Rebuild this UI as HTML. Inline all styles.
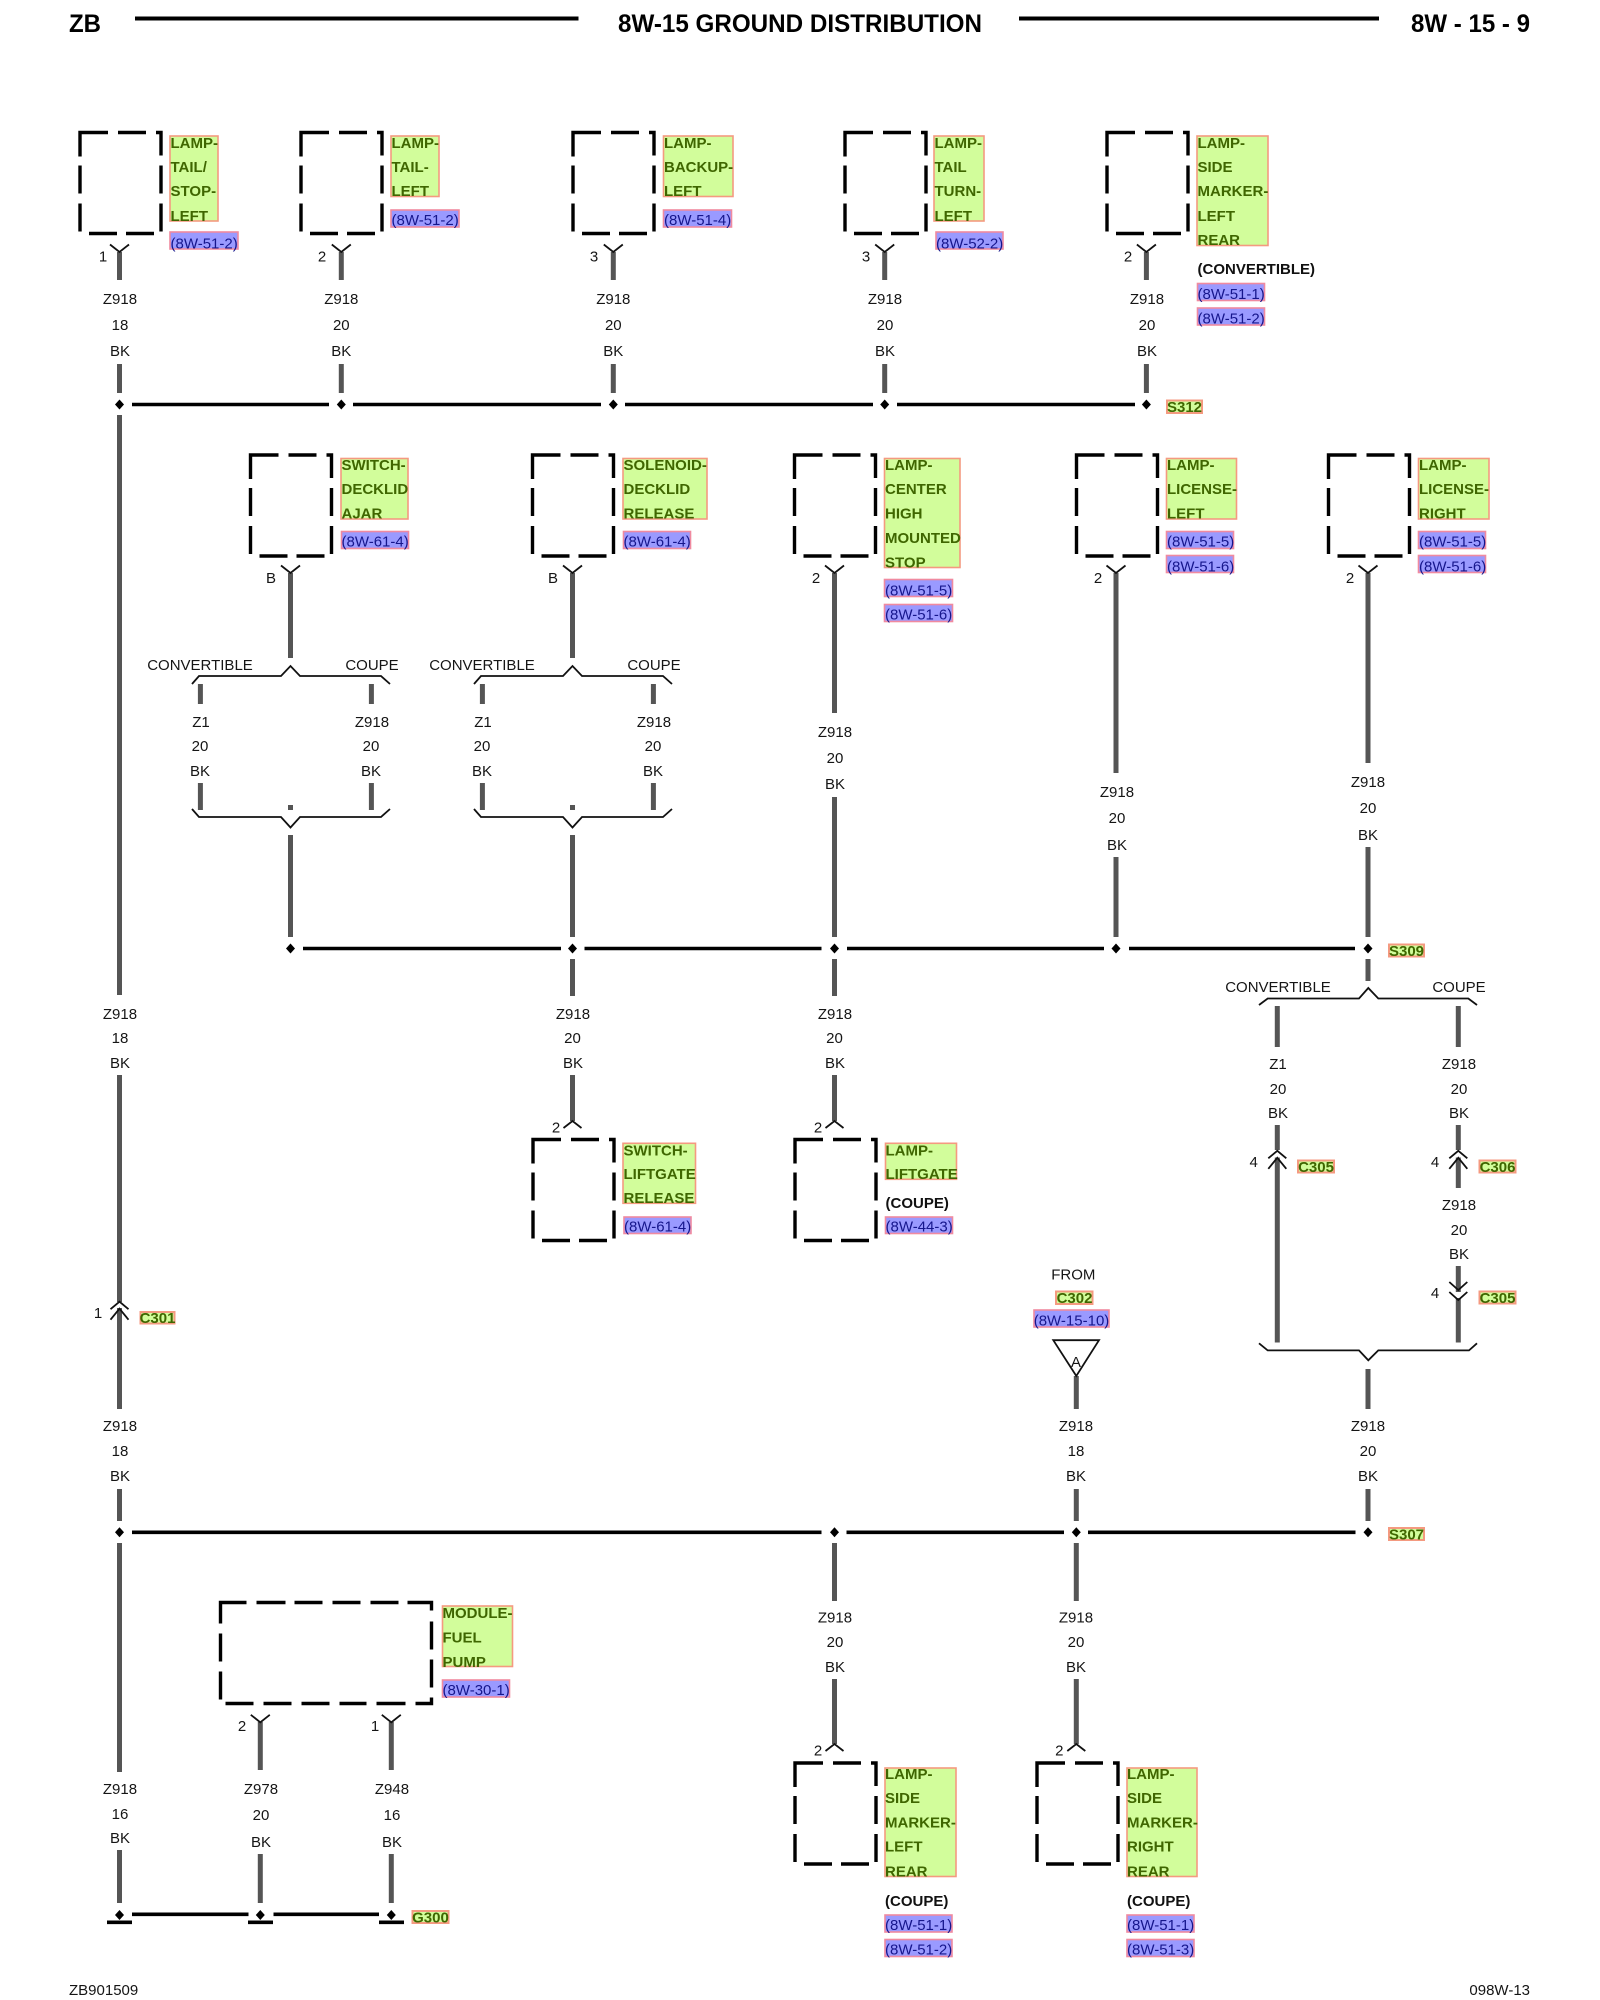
<!DOCTYPE html>
<html lang="en">
<head>
<meta charset="utf-8">
<title>8W-15 Ground Distribution</title>
<style>
html,body{margin:0;padding:0;background:#fff}
svg{display:block}
text{font-family:"Liberation Sans",sans-serif;font-size:15px;fill:#151515}
.m{text-anchor:middle}
.e{text-anchor:end}
.w{stroke:#555;stroke-width:5;fill:none}
.b{stroke:#000;stroke-width:3.6;fill:none}
.t{stroke:#111;stroke-width:1.8;fill:none}
.gr{fill:#d2fd9b;stroke:#f49a80;stroke-width:1.6}
.br{fill:#9a9aff;stroke:#f08aa0;stroke-width:1.6}
text.g{font-weight:bold;fill:#3f6600}
text.l{fill:#16168c}
text.k{font-weight:bold;fill:#111}
.sr{fill:#d2fd9b;stroke:#f49a80;stroke-width:2}
text.h{font-weight:bold;font-size:25px;fill:#000}
</style>
</head>
<body>
<svg width="1600" height="2000" viewBox="0 0 1600 2000" xmlns="http://www.w3.org/2000/svg">
<defs>
<path id="bx" fill="none" stroke="#000" stroke-width="3.4" d="M0 24V0H28M38 0H66M76 0H81V23M81 33V61M81 71V99M9 101H37M46 101H74M0 33V61M0 71V99"/>
<polygon id="d" points="0,-5 4.5,0 0,5 -4.5,0" fill="#000"/>
<path id="y" class="t" d="M-9.5 -7.500L0 0L9.5 -7.500"/>
<path id="a" class="t" d="M-9 7L0 0L9 7"/>
<path id="cu" class="t" d="M-9 7.500L0 0L9 7.500M-9 18L0 7L9 18"/>
<path id="cd" class="t" d="M-9 -8L0 0L9 -8M-9 2L0 10L9 2"/>
<path id="bt" class="t" d="M-98.500 18L-91.500 10H-9.500L0 0L9.500 10H90.500L99.500 18"/>
<path id="bb" class="t" d="M-98.500 0L-91.500 8H-9.500L0 18.500L9.500 8H90.500L99.500 0"/>
</defs>

<!-- header -->
<text class="h" x="69" y="32" textLength="32" lengthAdjust="spacingAndGlyphs">ZB</text>
<text class="h" x="618" y="32" textLength="364" lengthAdjust="spacingAndGlyphs">8W-15 GROUND DISTRIBUTION</text>
<text class="h" x="1411" y="32" textLength="119" lengthAdjust="spacingAndGlyphs">8W - 15 - 9</text>
<path stroke="#000" stroke-width="4" d="M135 18.500H578.500M1019 18.500H1379"/>

<!-- row 1 nodes -->
<g transform="translate(80,132.500)"><use href="#bx"/><rect class="gr" x="90" y="3.500" width="48" height="85"/><text class="g" x="90.500" y="15.500">LAMP-</text><text class="g" x="90.500" y="39.500">TAIL/</text><text class="g" x="90.500" y="63.500">STOP-</text><text class="g" x="90.500" y="88.500">LEFT</text><rect class="br" x="90" y="99.500" width="68" height="17"/><text class="l" x="90.500" y="116">(8W-51-2)</text></g>
<g transform="translate(301,132.500)"><use href="#bx"/><rect class="gr" x="90" y="3.500" width="48" height="60.500"/><text class="g" x="90.500" y="15.500">LAMP-</text><text class="g" x="90.500" y="39.500">TAIL-</text><text class="g" x="90.500" y="63.500">LEFT</text><rect class="br" x="90" y="77.500" width="68" height="17"/><text class="l" x="90.500" y="92.500">(8W-51-2)</text></g>
<g transform="translate(573,132.500)"><use href="#bx"/><rect class="gr" x="90.500" y="3.500" width="69.500" height="60.500"/><text class="g" x="91" y="15.500">LAMP-</text><text class="g" x="91" y="39.500">BACKUP-</text><text class="g" x="91" y="63.500">LEFT</text><rect class="br" x="90.500" y="77.500" width="68" height="17"/><text class="l" x="91" y="92.500">(8W-51-4)</text></g>
<g transform="translate(845,132.500)"><use href="#bx"/><rect class="gr" x="89" y="3.500" width="50" height="85"/><text class="g" x="89.500" y="15.500">LAMP-</text><text class="g" x="89.500" y="39.500">TAIL</text><text class="g" x="89.500" y="63.500">TURN-</text><text class="g" x="89.500" y="88.500">LEFT</text><rect class="br" x="91" y="99.500" width="67" height="17"/><text class="l" x="91" y="116">(8W-52-2)</text></g>
<g transform="translate(1107,132.500)"><use href="#bx"/><rect class="gr" x="90" y="3.500" width="71" height="109.500"/><text class="g" x="90.500" y="15.500">LAMP-</text><text class="g" x="90.500" y="39.500">SIDE</text><text class="g" x="90.500" y="63.500">MARKER-</text><text class="g" x="90.500" y="88.500">LEFT</text><text class="g" x="90.500" y="112.500">REAR</text><text class="k" x="90.500" y="141.500">(CONVERTIBLE)</text><rect class="br" x="90.500" y="151" width="67" height="17"/><text class="l" x="90.500" y="166.500">(8W-51-1)</text><rect class="br" x="90.500" y="175.500" width="67" height="17"/><text class="l" x="90.500" y="191">(8W-51-2)</text></g>

<!-- row 2 nodes -->
<g transform="translate(250.500,455)"><use href="#bx"/><rect class="gr" x="90.500" y="3.500" width="67" height="60.500"/><text class="g" x="91" y="15">SWITCH-</text><text class="g" x="91" y="39">DECKLID</text><text class="g" x="91" y="63.500">AJAR</text><rect class="br" x="91" y="76.500" width="67" height="17"/><text class="l" x="91" y="91.500">(8W-61-4)</text></g>
<g transform="translate(532.500,455)"><use href="#bx"/><rect class="gr" x="90.500" y="3.500" width="84" height="60.500"/><text class="g" x="91" y="15">SOLENOID-</text><text class="g" x="91" y="39">DECKLID</text><text class="g" x="91" y="63.500">RELEASE</text><rect class="br" x="91" y="76.500" width="67" height="17"/><text class="l" x="91" y="91.500">(8W-61-4)</text></g>
<g transform="translate(794.500,455)"><use href="#bx"/><rect class="gr" x="90" y="3.500" width="75.500" height="109"/><text class="g" x="90.500" y="15">LAMP-</text><text class="g" x="90.500" y="39">CENTER</text><text class="g" x="90.500" y="63.500">HIGH</text><text class="g" x="90.500" y="88">MOUNTED</text><text class="g" x="90.500" y="112.500">STOP</text><rect class="br" x="90" y="124.500" width="68" height="17"/><text class="l" x="90.500" y="140.500">(8W-51-5)</text><rect class="br" x="90" y="149.500" width="68" height="17"/><text class="l" x="90.500" y="164.500">(8W-51-6)</text></g>
<g transform="translate(1076.500,455)"><use href="#bx"/><rect class="gr" x="90" y="3.500" width="70" height="60.500"/><text class="g" x="90.500" y="15">LAMP-</text><text class="g" x="90.500" y="39">LICENSE-</text><text class="g" x="90.500" y="63.500">LEFT</text><rect class="br" x="90" y="76.500" width="67" height="17"/><text class="l" x="90.500" y="91.500">(8W-51-5)</text><rect class="br" x="90" y="100.500" width="67" height="17"/><text class="l" x="90.500" y="116.500">(8W-51-6)</text></g>
<g transform="translate(1328.500,455)"><use href="#bx"/><rect class="gr" x="90" y="3.500" width="70.500" height="60.500"/><text class="g" x="90.500" y="15">LAMP-</text><text class="g" x="90.500" y="39">LICENSE-</text><text class="g" x="90.500" y="63.500">RIGHT</text><rect class="br" x="90" y="76.500" width="67" height="17"/><text class="l" x="90.500" y="91.500">(8W-51-5)</text><rect class="br" x="90" y="100.500" width="67" height="17"/><text class="l" x="90.500" y="116.500">(8W-51-6)</text></g>

<!-- row 3 nodes -->
<g transform="translate(533,1139.500)"><use href="#bx"/><rect class="gr" x="90" y="3.800" width="72.500" height="60"/><text class="g" x="90.500" y="16">SWITCH-</text><text class="g" x="90.500" y="39.500">LIFTGATE</text><text class="g" x="90.500" y="63.500">RELEASE</text><rect class="br" x="91" y="77.500" width="67" height="16.500"/><text class="l" x="91" y="92">(8W-61-4)</text></g>
<g transform="translate(795,1139.500)"><use href="#bx"/><rect class="gr" x="90.500" y="3.800" width="71" height="36"/><text class="g" x="90.500" y="16">LAMP-</text><text class="g" x="90.500" y="39.500">LIFTGATE</text><text class="k" x="90.500" y="68.500">(COUPE)</text><rect class="br" x="90.500" y="77.500" width="67" height="16.500"/><text class="l" x="90.500" y="92">(8W-44-3)</text></g>

<!-- row 4 nodes -->
<g transform="translate(795,1763)"><use href="#bx"/><rect class="gr" x="90" y="5" width="71" height="108.500"/><text class="g" x="90" y="16">LAMP-</text><text class="g" x="90" y="40">SIDE</text><text class="g" x="90" y="64.500">MARKER-</text><text class="g" x="90" y="88.500">LEFT</text><text class="g" x="90" y="113.500">REAR</text><text class="k" x="90" y="143">(COUPE)</text><rect class="br" x="90" y="152" width="67" height="17"/><text class="l" x="90" y="167">(8W-51-1)</text><rect class="br" x="90" y="176.500" width="67" height="17"/><text class="l" x="90" y="191.500">(8W-51-2)</text></g>
<g transform="translate(1037,1763)"><use href="#bx"/><rect class="gr" x="90" y="5" width="70" height="108.500"/><text class="g" x="90" y="16">LAMP-</text><text class="g" x="90" y="40">SIDE</text><text class="g" x="90" y="64.500">MARKER-</text><text class="g" x="90" y="88.500">RIGHT</text><text class="g" x="90" y="113.500">REAR</text><text class="k" x="90" y="143">(COUPE)</text><rect class="br" x="90" y="152" width="67" height="17"/><text class="l" x="90" y="167">(8W-51-1)</text><rect class="br" x="90" y="176.500" width="67" height="17"/><text class="l" x="90" y="191.500">(8W-51-3)</text></g>

<!-- fuel pump module -->
<path fill="none" stroke="#000" stroke-width="3.400" transform="translate(220.500,1602.500)" d="M0 21V0H26M36 0H65M74 0H102M112 0H140M150 0H178M187 0H211V8M211 19V47M211 57V85M211 95V101H195M185 101H156M146 101H119M109 101H81M71 101H43M33 101H5M0 31V59M0 69V97"/>
<rect class="gr" x="442.500" y="1606" width="70" height="60.500"/>
<text class="g" x="442.500" y="1618">MODULE-</text><text class="g" x="442.500" y="1642.500">FUEL</text><text class="g" x="442.500" y="1667">PUMP</text>
<rect class="br" x="442.500" y="1680" width="67" height="17"/><text class="l" x="442.500" y="1695">(8W-30-1)</text>

<!-- wires -->
<path class="w" d="M119.500 252V280M119.500 364V393M119.500 415V995M119.500 1075V1302M119.500 1308V1409M119.500 1489V1521M119.500 1543V1772M119.500 1850V1903
M341.300 252V280M341.300 364V393
M613.300 252V280M613.300 364V393
M884.700 252V280M884.700 364V393
M1146.400 252V280M1146.400 364V393
M290.500 573V658M200.400 684V704M371.400 684V704M200.400 783V810M371.400 783V810M290.500 805V810M290.500 835V937
M572.500 573V658M482.400 684V704M653.400 684V704M482.400 783V810M653.400 783V810M572.500 805V810M572.500 835V937
M834.500 573V713M834.500 797V937
M1116 573V773M1116 857V937
M1368 573V763M1368 847V937
M572.500 959V996M572.500 1075V1121
M834.500 959V996M834.500 1075V1121
M1368 959V981
M1277.300 1006V1047M1277.300 1125V1150M1277.300 1157.500V1342.500
M1458.300 1006V1047M1458.300 1125V1150M1458.300 1157.500V1188M1458.300 1266V1292M1458.300 1298V1342.500
M1368 1369V1409M1368 1489V1521
M1076.300 1376V1409M1076.300 1489V1521
M1076.300 1543V1601M1076.300 1679V1744
M834.500 1543V1601M834.500 1679V1744
M260.300 1722V1770M260.300 1854V1903
M391.300 1722V1770M391.300 1854V1903"/>

<!-- buses -->
<path class="b" d="M132 404.500H329M353 404.500H601M625 404.500H873M897 404.500H1135
M303 948.500H561M584.500 948.500H821.500M847 948.500H1104M1129 948.500H1355
M132 1532.300H821.500M846.500 1532.300H1064M1088 1532.300H1355.500
M132 1914.300H248.500M273.500 1914.300H379"/>
<path stroke="#000" stroke-width="3.600" d="M107 1922.300H132M248 1922.300H273M379 1922.300H404"/>

<!-- splice diamonds -->
<use href="#d" x="119.500" y="404.500"/><use href="#d" x="341.300" y="404.500"/><use href="#d" x="613.300" y="404.500"/><use href="#d" x="884.700" y="404.500"/><use href="#d" x="1146.400" y="404.500"/>
<use href="#d" x="290.500" y="948.500"/><use href="#d" x="572.500" y="948.500"/><use href="#d" x="834.500" y="948.500"/><use href="#d" x="1116" y="948.500"/><use href="#d" x="1368" y="948.500"/>
<use href="#d" x="119.500" y="1532.300"/><use href="#d" x="834.500" y="1532.300"/><use href="#d" x="1076.300" y="1532.300"/><use href="#d" x="1368" y="1532.300"/>
<use href="#d" x="119.500" y="1915"/><use href="#d" x="260.300" y="1915"/><use href="#d" x="391.300" y="1915"/>

<!-- connector forks -->
<use href="#y" x="119.500" y="252"/><use href="#y" x="341.300" y="252"/><use href="#y" x="613.300" y="252"/><use href="#y" x="884.700" y="252"/><use href="#y" x="1146.400" y="252"/>
<use href="#y" x="290.500" y="573"/><use href="#y" x="572.500" y="573"/><use href="#y" x="834.500" y="573"/><use href="#y" x="1116" y="573"/><use href="#y" x="1368" y="573"/>
<use href="#y" x="260.300" y="1722.300"/><use href="#y" x="391.300" y="1722.300"/>
<use href="#a" x="572.500" y="1121"/><use href="#a" x="834.500" y="1121"/>
<use href="#a" x="834.500" y="1744"/><use href="#a" x="1076.300" y="1744"/>

<!-- brackets -->
<use href="#bt" x="290.500" y="666"/><use href="#bb" x="290.500" y="809"/>
<use href="#bt" x="572.500" y="666"/><use href="#bb" x="572.500" y="809"/>
<path class="t" d="M1259 1005L1267.700 998.500H1359L1368.300 988L1378.300 998.500H1468.300L1477 1005"/>
<path class="t" d="M1259 1343.300L1267.700 1350.400H1359L1368.300 1360.300L1378.300 1350.400H1469L1477 1343.300"/>

<!-- inline connectors -->
<use href="#cu" x="119.500" y="1301.700"/>
<use href="#cu" x="1277.300" y="1150.800"/>
<use href="#cu" x="1458.300" y="1150.800"/>
<use href="#cd" x="1458.300" y="1290"/>

<!-- triangle -->
<polygon class="t" points="1053.300,1340.200 1099,1340.200 1076.300,1376"/>
<text class="m" x="1076" y="1367">A</text>

<!-- pin labels -->
<text class="m" x="103" y="261.500">1</text><text class="m" x="322" y="261.500">2</text><text class="m" x="594" y="261.500">3</text><text class="m" x="866" y="261.500">3</text><text class="m" x="1128" y="261.500">2</text>
<text class="m" x="271" y="583">B</text><text class="m" x="553" y="583">B</text><text class="m" x="816" y="583">2</text><text class="m" x="1098" y="583">2</text><text class="m" x="1350" y="583">2</text>
<text class="m" x="556" y="1132.500">2</text><text class="m" x="818" y="1132.500">2</text>
<text class="m" x="98" y="1318">1</text>
<text class="m" x="1253.700" y="1167">4</text><text class="m" x="1435" y="1167">4</text><text class="m" x="1435" y="1298">4</text>
<text class="m" x="818" y="1755.500">2</text><text class="m" x="1059.300" y="1755.500">2</text>
<text class="m" x="242" y="1731">2</text><text class="m" x="375" y="1731">1</text>

<!-- wire labels row 1 -->
<text class="m" x="120" y="304">Z918</text><text class="m" x="120" y="330">18</text><text class="m" x="120" y="356">BK</text>
<text class="m" x="341.300" y="304">Z918</text><text class="m" x="341.300" y="330">20</text><text class="m" x="341.300" y="356">BK</text>
<text class="m" x="613.300" y="304">Z918</text><text class="m" x="613.300" y="330">20</text><text class="m" x="613.300" y="356">BK</text>
<text class="m" x="885" y="304">Z918</text><text class="m" x="885" y="330">20</text><text class="m" x="885" y="356">BK</text>
<text class="m" x="1147" y="304">Z918</text><text class="m" x="1147" y="330">20</text><text class="m" x="1147" y="356">BK</text>

<!-- convertible / coupe row 2 -->
<text class="m" x="200" y="670">CONVERTIBLE</text><text class="m" x="372" y="670">COUPE</text>
<text class="m" x="201" y="727">Z1</text><text class="m" x="200" y="751">20</text><text class="m" x="200" y="776">BK</text>
<text class="m" x="372" y="727">Z918</text><text class="m" x="371" y="751">20</text><text class="m" x="371" y="776">BK</text>
<text class="m" x="482" y="670">CONVERTIBLE</text><text class="m" x="654" y="670">COUPE</text>
<text class="m" x="483" y="727">Z1</text><text class="m" x="482" y="751">20</text><text class="m" x="482" y="776">BK</text>
<text class="m" x="654" y="727">Z918</text><text class="m" x="653" y="751">20</text><text class="m" x="653" y="776">BK</text>

<text class="m" x="835" y="737">Z918</text><text class="m" x="835" y="763">20</text><text class="m" x="835" y="789">BK</text>
<text class="m" x="1117" y="797">Z918</text><text class="m" x="1117" y="823">20</text><text class="m" x="1117" y="850">BK</text>
<text class="m" x="1368" y="787">Z918</text><text class="m" x="1368" y="813">20</text><text class="m" x="1368" y="840">BK</text>

<!-- wire labels row 3 -->
<text class="m" x="120" y="1019">Z918</text><text class="m" x="120" y="1043">18</text><text class="m" x="120" y="1068">BK</text>
<text class="m" x="573" y="1019">Z918</text><text class="m" x="572.500" y="1043">20</text><text class="m" x="573" y="1068">BK</text>
<text class="m" x="835" y="1019">Z918</text><text class="m" x="834.500" y="1043">20</text><text class="m" x="835" y="1068">BK</text>

<text class="m" x="1278" y="992">CONVERTIBLE</text><text class="m" x="1459" y="992">COUPE</text>
<text class="m" x="1278" y="1069">Z1</text><text class="m" x="1278" y="1094">20</text><text class="m" x="1278" y="1118">BK</text>
<text class="m" x="1459" y="1069">Z918</text><text class="m" x="1459" y="1094">20</text><text class="m" x="1459" y="1118">BK</text>
<text class="m" x="1459" y="1210">Z918</text><text class="m" x="1459" y="1235">20</text><text class="m" x="1459" y="1259">BK</text>

<!-- from C302 -->
<text class="m" x="1073.300" y="1279.500">FROM</text>
<rect class="sr" x="1056" y="1291.500" width="36.500" height="12.500"/><text class="g m" x="1074.500" y="1303">C302</text>
<rect class="br" x="1034" y="1310" width="75" height="17"/><text class="l m" x="1071.500" y="1325.500">(8W-15-10)</text>

<text class="m" x="120" y="1431">Z918</text><text class="m" x="120" y="1456">18</text><text class="m" x="120" y="1481">BK</text>
<text class="m" x="1076" y="1431">Z918</text><text class="m" x="1076" y="1456">18</text><text class="m" x="1076" y="1481">BK</text>
<text class="m" x="1368" y="1431">Z918</text><text class="m" x="1368" y="1456">20</text><text class="m" x="1368" y="1481">BK</text>

<text class="m" x="835" y="1622.500">Z918</text><text class="m" x="835" y="1647">20</text><text class="m" x="835" y="1672">BK</text>
<text class="m" x="1076" y="1622.500">Z918</text><text class="m" x="1076" y="1647">20</text><text class="m" x="1076" y="1672">BK</text>

<text class="m" x="120" y="1794">Z918</text><text class="m" x="120" y="1819">16</text><text class="m" x="120" y="1843">BK</text>
<text class="m" x="261" y="1794">Z978</text><text class="m" x="261" y="1820">20</text><text class="m" x="261" y="1847">BK</text>
<text class="m" x="392" y="1794">Z948</text><text class="m" x="392" y="1820">16</text><text class="m" x="392" y="1847">BK</text>

<!-- small component tags -->
<rect class="sr" x="1167" y="400.500" width="35" height="12.500"/><text class="g m" x="1184.500" y="412">S312</text>
<rect class="sr" x="1389" y="944.500" width="35" height="12"/><text class="g m" x="1406.500" y="956">S309</text>
<rect class="sr" x="140.500" y="1312" width="34" height="11.500"/><text class="g m" x="157.500" y="1323">C301</text>
<rect class="sr" x="1298" y="1160.500" width="36" height="12"/><text class="g m" x="1316" y="1172">C305</text>
<rect class="sr" x="1479.500" y="1160.500" width="36" height="12"/><text class="g m" x="1497.500" y="1172">C306</text>
<rect class="sr" x="1479.500" y="1291.500" width="36" height="12"/><text class="g m" x="1497.500" y="1303">C305</text>
<rect class="sr" x="1389" y="1528" width="35" height="12"/><text class="g m" x="1406.500" y="1539.500">S307</text>
<rect class="sr" x="412.500" y="1911" width="36" height="12"/><text class="g m" x="430.500" y="1922.500">G300</text>

<!-- footer -->
<text x="69" y="1995">ZB901509</text>
<text class="e" x="1530" y="1995">098W-13</text>
</svg>
</body>
</html>
